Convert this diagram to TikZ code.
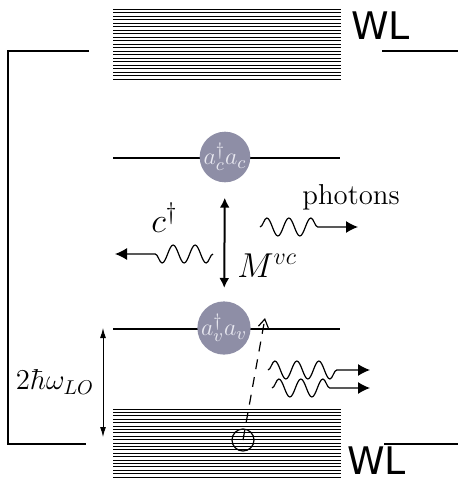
\documentclass[tikz,border=0pt]{standalone}
\usepackage{fontspec}
\newfontfamily\wlfont{DejaVu Sans}
\usetikzlibrary{arrows.meta,decorations.pathmorphing}
\definecolor{stategray}{RGB}{142,142,166}
\definecolor{statetext}{RGB}{232,232,240}

\begin{document}
\begin{tikzpicture}[x=0.5pt,y=-0.5pt,
  band/.style={line width=0.5pt},
  level/.style={line width=1pt},
  frame/.style={line width=1pt},
  state/.style={circle, fill=stategray, minimum size=23pt, inner sep=0pt, text=statetext, font=\fontsize{13}{15}\selectfont},
  hole/.style={circle, draw, minimum size=11pt, inner sep=0pt, line width=0.6pt},
  wl/.style={font=\wlfont\fontsize{19}{22}\selectfont, anchor=base west, inner sep=0pt},
  lab/.style={font=\LARGE, inner sep=0pt, anchor=base west},
  wave/.style={decorate, decoration={snake, amplitude=4.5pt, segment length=11pt, post length=16pt}, line width=0.6pt, -{Latex[length=6pt,width=6pt]}},
  dbl/.style={{Latex[length=5pt,width=5pt]}-{Latex[length=5pt,width=5pt]}, line width=1pt},
  gap/.style={{Latex[length=5pt,width=3pt]}-{Latex[length=5pt,width=3pt]}, line width=0.5pt},
  jump/.style={dash pattern=on 5pt off 4pt, line width=0.6pt, -{Straight Barb[length=4pt,width=5pt]}}
]
\useasboundingbox (0,0) rectangle (458,478);
% wetting layer
\foreach \i in {0,...,20} {
  \draw[band] (113,9+3.5*\i) -- (341,9+3.5*\i);
  \draw[band] (113,409+3.4*\i) -- (341,409+3.4*\i);
}
\node[wl] (wltop) at (351,39) {WL};
\node[wl] (wlbot) at (347,474) {WL};
\draw[frame] (89,51) -- (8,51) -- (8,444) -- (86,444);
\draw[frame] (382,51) -- (458,51);
\draw[frame] (384,444) -- (458,444);
% dot levels
\draw[level] (113,158) -- (340,158);
\draw[level] (113,329) -- (340,329);
\node[state] (cst) at (225,157) {$a_c^\dagger a_c$};
\node[state] (vst) at (224,328) {$a_v^\dagger a_v$};
\draw[dbl, shorten <=7.5pt, shorten >=6.5pt] (cst) -- (vst);
\node[lab] (mvc) at (237,277) {$M^{vc}$};
% photons
\coordinate (cs) at (213,254);
\coordinate (ce) at (115,254);
\draw[wave] (cs) -- (ce);
\node[lab] (cdag) at (151,232) {$c^\dagger$};
\coordinate (ps) at (260,227);
\coordinate (pe) at (358,227);
\draw[wave] (ps) -- (pe);
\node[lab, font=\Large] (phot) at (302,204) {photons};
% LO phonons
\coordinate (p1s) at (268,370);
\coordinate (p1e) at (370,370);
\coordinate (p2s) at (272,388);
\coordinate (p2e) at (370,388);
\draw[wave] (p1s) -- (p1e);
\draw[wave] (p2s) -- (p2e);
\node[hole] (hl) at (243,440) {};
\coordinate (htip) at (265,318);
\draw[jump] (hl.center) -- (htip);
\coordinate (gt) at (103,328);
\coordinate (gb) at (103,437);
\draw[gap] (gt) -- (gb);
\node[font=\Large, inner sep=0pt] (lo) at (55,382) {$2\hbar\omega_{LO}$};
\end{tikzpicture}
\end{document}
